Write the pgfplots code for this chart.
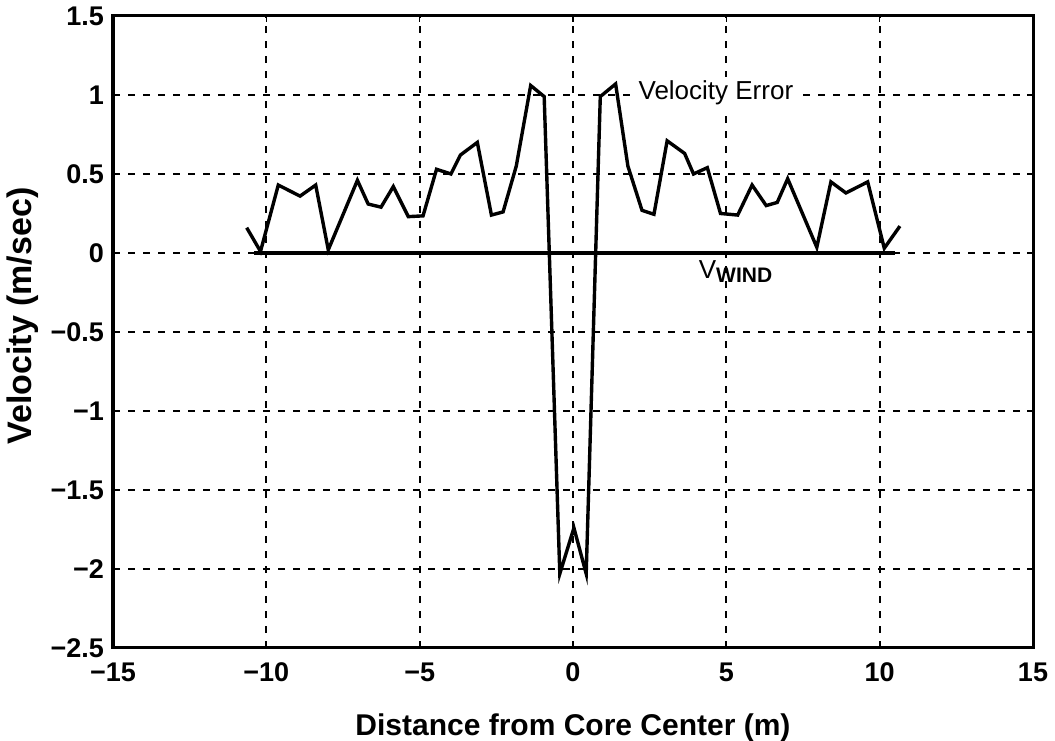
\documentclass[border=0pt]{standalone}
\usepackage{fontspec}
\setmainfont{Liberation Sans}
\usepackage{pgfplots}
\pgfplotsset{compat=1.18}
\begin{document}
\begin{tikzpicture}
\begin{axis}[
  scale only axis,
  width=460pt, height=316pt,
  xmin=-15, xmax=15, ymin=-2.5, ymax=1.5,
  xtick={-15,-10,-5,0,5,10,15},
  xticklabels={−15,−10,−5,0,5,10,15},
  ytick={-2.5,-2,-1.5,-1,-0.5,0,0.5,1,1.5},
  yticklabels={−2.5,−2,−1.5,−1,−0.5,0,0.5,1,1.5},
  tick label style={font=\fontsize{13.5}{15}\selectfont\bfseries},
  xticklabel style={yshift=-4pt},
  yticklabel style={xshift=-1pt},
  grid=major,
  major grid style={black, line width=0.9pt, dash pattern=on 3.5pt off 4pt},
  axis line style={line width=1.5pt},
  major tick length=3pt,
  tick style={black, line width=0.6pt},
  xlabel={Distance from Core Center (m)},
  ylabel={Velocity (m/sec)},
  xlabel style={font=\fontsize{15}{17}\selectfont\bfseries, yshift=-9pt},
  ylabel style={font=\fontsize{17}{19}\selectfont\bfseries, yshift=-1pt, xshift=8pt},
]
\addplot[black, line width=1.7pt, line join=miter] coordinates {
(-10.64,0.16) (-10.19,0.01) (-9.61,0.43) (-8.90,0.36) (-8.39,0.43) (-7.98,0.02)
(-7.03,0.46) (-6.68,0.31) (-6.26,0.29) (-5.86,0.42) (-5.37,0.23) (-4.89,0.235)
(-4.45,0.53) (-3.98,0.50) (-3.67,0.62) (-3.12,0.70) (-2.66,0.24) (-2.28,0.26)
(-1.85,0.55) (-1.38,1.06) (-0.94,0.99) (-0.43,-2.03) (0.03,-1.74) (0.43,-2.03)
(0.89,0.99) (1.39,1.07) (1.79,0.55) (2.25,0.27) (2.64,0.245) (3.07,0.71)
(3.64,0.63) (3.93,0.50) (4.38,0.54) (4.81,0.25) (5.37,0.24) (5.84,0.43)
(6.30,0.30) (6.66,0.32) (7.00,0.47) (7.95,0.036) (8.41,0.45) (8.90,0.38)
(9.61,0.45) (10.15,0.03) (10.66,0.17)
};
\addplot[black, line width=2pt] coordinates {(-10.4,0) (10.5,0)};
\node[fill=white, inner sep=2pt, font=\fontsize{13}{15}\selectfont] at (axis cs:4.66,1.015) {Velocity Error};
\node[font=\fontsize{13}{15}\selectfont] at (axis cs:5.3,-0.12) {V\raisebox{-0.3ex}{\fontsize{10.5}{12}\selectfont\bfseries WIND}};
\end{axis}
\pgfresetboundingbox
\path ([xshift=-56.5pt,yshift=-46.5pt]current axis.south west) rectangle ([xshift=11pt,yshift=8pt]current axis.north east);
\end{tikzpicture}
\end{document}
